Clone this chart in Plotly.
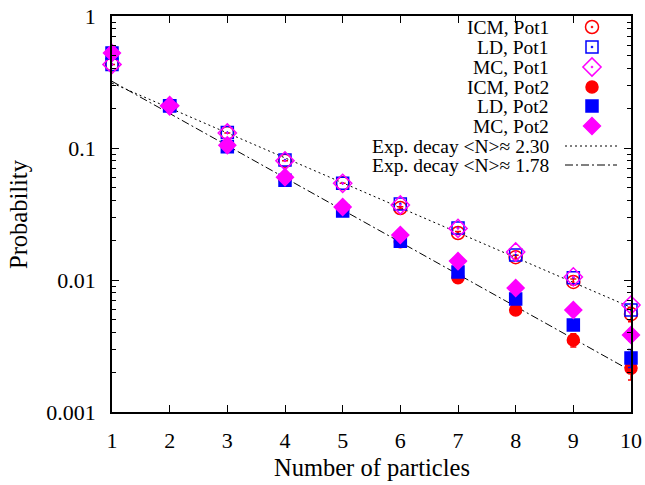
import plotly.graph_objects as go

# ---- data ----
n = [1, 2, 3, 4, 5, 6, 7, 8, 9, 10]

icm_pot1 = [0.43, 0.209, 0.130, 0.080, 0.054, 0.0351, 0.0227, 0.0149, 0.00966, 0.00552]
ld_pot1 = [0.43, 0.209, 0.131, 0.081, 0.054, 0.0377, 0.0248, 0.0155, 0.0104, 0.00593]
mc_pot1 = [0.43, 0.209, 0.130, 0.080, 0.054, 0.0370, 0.0246, 0.0163, 0.01055, 0.00646]
icm_pot2 = [0.52, 0.209, 0.104, 0.058, 0.034, 0.0195, 0.0104, 0.00593, 0.00351, 0.00215]
ld_pot2 = [0.525, 0.209, 0.102, 0.057, 0.0333, 0.0197, 0.0115, 0.00718, 0.00456, 0.00257]
mc_pot2 = [0.525, 0.209, 0.105, 0.060, 0.0357, 0.0219, 0.0139, 0.0087, 0.00593, 0.00383]

icm_pot1_err = [0, 0, 0, 0, 0, 0.0008, 0.0006, 0.0005, 0.0005, 0.0007]
icm_pot2_err = [0, 0, 0, 0, 0, 0, 0.0004, 0.0003, 0.0004, 0.0004]
ld_pot2_err = [0, 0, 0, 0, 0, 0, 0, 0.0002, 0.0003, 0.0004]
mc_pot2_err = [0, 0, 0, 0, 0, 0, 0, 0, 0.0003, 0.0004]

decay_n = [1, 10]
decay_230 = [0.31, 0.0062]
decay_178 = [0.32, 0.00205]

y_tickvals = [0.001, 0.01, 0.1, 1]
y_ticktext = ["0.001", "0.01", "0.1", "1"]
y_minor = [m * d for d in (0.001, 0.01, 0.1) for m in range(2, 10)]

legend_labels = ["ICM, Pot1", "LD, Pot1", "MC, Pot1", "ICM, Pot2", "LD, Pot2", "MC, Pot2",
                 "Exp. decay <N>\u2248 2.30", "Exp. decay <N>\u2248 1.78"]

RED, BLUE, MAG = "#ff0000", "#0000ff", "#ff00ff"
FONT = "Liberation Serif, Times New Roman, serif"

series = [
    (icm_pot1, icm_pot1_err, RED, "circle-open-dot", 13),
    (ld_pot1, None, BLUE, "square-open-dot", 12),
    (mc_pot1, None, MAG, "diamond-open-dot", 14),
    (icm_pot2, icm_pot2_err, RED, "circle", 12),
    (ld_pot2, ld_pot2_err, BLUE, "square", 12),
    (mc_pot2, mc_pot2_err, MAG, "diamond", 13),
]

fig = go.Figure()

# fit lines
fig.add_trace(go.Scatter(x=decay_n, y=decay_230, mode="lines",
                         line=dict(color="black", width=1, dash="2px,3px"), showlegend=False))
fig.add_trace(go.Scatter(x=decay_n, y=decay_178, mode="lines",
                         line=dict(color="black", width=1, dash="8px,3px,2px,3px"), showlegend=False))

for vals, err, col, sym, sz in series:
    kw = {}
    if err is not None:
        kw["error_y"] = dict(type="data", array=err, visible=True, color=col, thickness=1.5, width=3)
    fig.add_trace(go.Scatter(
        x=n, y=vals, mode="markers", cliponaxis=False, showlegend=False,
        marker=dict(symbol=sym, size=sz, color=col, line=dict(color=col, width=1.5)),
        **kw))

# ---- custom gnuplot-style key (pixel coordinates of the plot area) ----
PW, PH = 519, 396
row_y = [27, 47, 67, 87, 106, 126, 146, 165]  # from top of figure
top = 16
left = 112
for i, (vals, err, col, sym, sz) in enumerate(series):
    fig.add_trace(go.Scatter(
        x=[592 - left], y=[PH - (row_y[i] - top)], xaxis="x2", yaxis="y2",
        mode="markers", showlegend=False, cliponaxis=False,
        marker=dict(symbol=sym, size=sz, color=col, line=dict(color=col, width=1.5))))
for j, dash in enumerate(["2px,3px", "8px,3px,2px,3px"]):
    yy = PH - (row_y[6 + j] - top)
    fig.add_trace(go.Scatter(
        x=[565 - left, 617 - left], y=[yy, yy], xaxis="x2", yaxis="y2",
        mode="lines", showlegend=False, cliponaxis=False,
        line=dict(color="black", width=1, dash=dash)))

annotations = []
for i, lab in enumerate(legend_labels):
    annotations.append(dict(
        x=551 - left, y=PH - (row_y[i] - top), xref="x2", yref="y2",
        text=lab.replace("<", "&lt;").replace(">", "&gt;"), showarrow=False,
        xanchor="right", yanchor="middle", font=dict(family=FONT, size=19.5, color="black")))

# axis titles
annotations.append(dict(text="Probability", textangle=-90, x=0, y=0.5, xref="paper", yref="paper",
                        xshift=-(left - 18), showarrow=False, xanchor="center", yanchor="middle",
                        font=dict(family=FONT, size=24.5, color="black")))
annotations.append(dict(text="Number of particles", x=0.5, y=0, xref="paper", yref="paper",
                        yshift=-(467 - 412), showarrow=False, xanchor="center", yanchor="middle",
                        font=dict(family=FONT, size=24.5, color="black")))

axis_common = dict(showline=True, linecolor="black", linewidth=1.5, mirror="allticks",
                   ticks="inside", tickcolor="black", tickwidth=1, ticklen=7,
                   showgrid=False, zeroline=False, automargin=False,
                   tickfont=dict(family=FONT, size=22, color="black"))

fig.update_layout(
    width=645, height=485,
    margin=dict(l=left, r=645 - 631, t=top, b=485 - 412, autoexpand=False),
    paper_bgcolor="white", plot_bgcolor="white",
    showlegend=False,
    xaxis=dict(range=[1, 10], tickvals=n, ticklabelstandoff=8, **axis_common),
    yaxis=dict(type="log", range=[-3, 0], tickvals=y_tickvals, ticktext=y_ticktext,
               ticklabelstandoff=10,
               minor=dict(ticks="inside", ticklen=4, tickcolor="black", tickwidth=1,
                          showgrid=False, tickvals=y_minor),
               **axis_common),
    xaxis2=dict(overlaying="x", anchor="y2", range=[0, PW], visible=False, automargin=False),
    yaxis2=dict(overlaying="y", anchor="x2", range=[0, PH], visible=False, automargin=False),
    annotations=annotations,
)

fig.write_html("out.html")
